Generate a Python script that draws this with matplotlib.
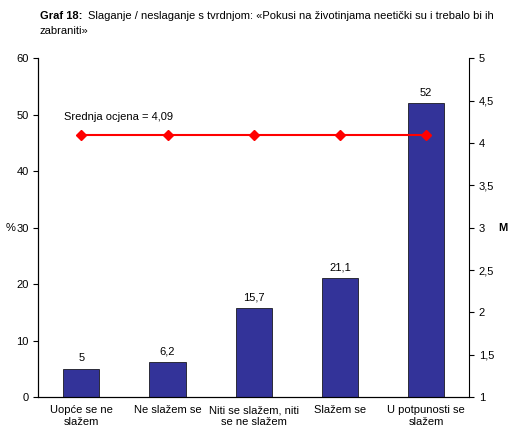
import matplotlib.pyplot as plt
from matplotlib.ticker import FuncFormatter

categories = ['Uopće se ne\nslažem', 'Ne slažem se', 'Niti se slažem, niti\nse ne slažem',
              'Slažem se', 'U potpunosti se\nslažem']
percent = [5, 6.2, 15.7, 21.1, 52]
mean_score = 4.09

plt.rcParams['font.family'] = ['Liberation Sans', 'DejaVu Sans']
plt.rcParams['font.size'] = 8

fig = plt.figure(figsize=(5.10, 4.34), dpi=100)
ax = fig.add_axes([0.075, 0.085, 0.845, 0.781])
x = range(len(categories))
ax.bar(x, percent, width=0.42, color='#333399', edgecolor='black', linewidth=0.5, zorder=2)
for i, v in zip(x, percent):
    ax.text(i, v + 1, str(v).replace('.', ','), ha='center', va='bottom', fontsize=8)
ax.set_ylim(0, 60)
ax.set_xlim(-0.5, len(categories) - 0.5)
ax.set_yticks(range(0, 61, 10))
ax.set_xticks(list(x))
ax.set_xticklabels(categories, fontsize=8)
ax.tick_params(axis='x', length=0, pad=6)
ax.set_ylabel('%', rotation=0, labelpad=4, va='center')
for s in ['top', 'right']:
    ax.spines[s].set_visible(False)

ax2 = ax.twinx()
ax2.plot(list(x), [mean_score] * len(categories), color='red', marker='D', markersize=5, linewidth=1.5)
ax2.set_ylim(1, 5)
ax2.set_yticks([1 + 0.5 * k for k in range(9)])
ax2.yaxis.set_major_formatter(FuncFormatter(lambda v, p: ('%g' % v).replace('.', ',')))
ax2.set_ylabel('M', rotation=0, fontweight='bold', labelpad=6, va='center')
ax2.spines['top'].set_visible(False)
ax2.text(-0.2, mean_score + 0.18, 'Srednja ocjena = 4,09', fontsize=8)

fig.text(0.078, 0.975, 'Graf 18:', fontsize=8, fontweight='bold', va='top')
fig.text(0.172, 0.975, 'Slaganje / neslaganje s tvrdnjom: «Pokusi na životinjama neetički su i trebalo bi ih',
         fontsize=8, va='top')
fig.text(0.078, 0.94, 'zabraniti»', fontsize=8, va='top')
fig.savefig('out.png', dpi=100)
